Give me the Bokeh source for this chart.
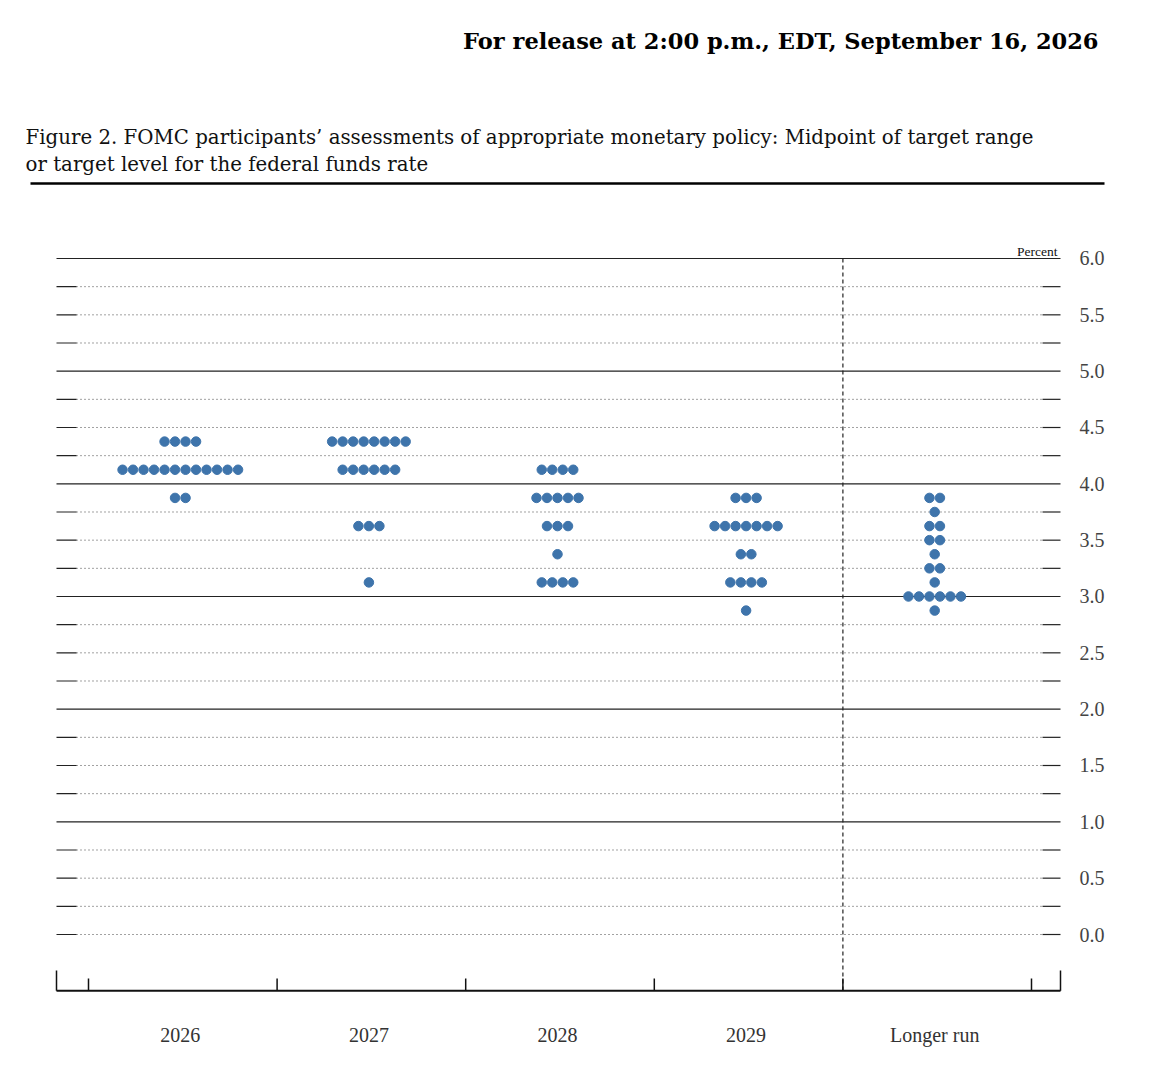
import numpy as np
from bokeh.plotting import figure
from bokeh.models import Range1d
from bokeh.core.properties import value
from bokeh.embed import file_html
from bokeh.resources import INLINE

# projection periods (x categories)
categories = ["2026", "2027", "2028", "2029", "Longer run"]

# midpoint levels and number of participants at each level
levels_2026 = [4.375, 4.125, 3.875]
counts_2026 = [4, 12, 2]

levels_2027 = [4.375, 4.125, 3.625, 3.125]
counts_2027 = [8, 6, 3, 1]

levels_2028 = [4.125, 3.875, 3.625, 3.375, 3.125]
counts_2028 = [4, 5, 3, 1, 4]

levels_2029 = [3.875, 3.625, 3.375, 3.125, 2.875]
counts_2029 = [3, 7, 2, 4, 1]

levels_longer = [3.875, 3.75, 3.625, 3.5, 3.375, 3.25, 3.125, 3.0, 2.875]
counts_longer = [2, 1, 2, 2, 1, 2, 1, 6, 1]

# right hand percent axis
rate_ticks = [0.0, 0.5, 1.0, 1.5, 2.0, 2.5, 3.0, 3.5, 4.0, 4.5, 5.0, 5.5, 6.0]
rate_labels = ["0.0", "0.5", "1.0", "1.5", "2.0", "2.5", "3.0", "3.5", "4.0", "4.5", "5.0", "5.5", "6.0"]

release_text = "For release at 2:00 p.m., EDT, September 16, 2026"
caption_1 = "Figure 2. FOMC participants\u2019 assessments of appropriate monetary policy: Midpoint of target range"
caption_2 = "or target level for the federal funds rate"


# page layout: one category = 188.6 px, one percentage point = 112.67 px
W, H = 1148, 1059
X_PX = 188.6
Y_PX = 112.667


def sx(px):
    return -0.5 + (px - 88) / X_PX


def sy(py):
    return (934 - py) / Y_PX


p = figure(width=W, height=H, output_backend="svg", toolbar_location=None,
           x_range=Range1d(sx(0), sx(W)), y_range=Range1d(sy(H), sy(0)),
           x_axis_location=None, y_axis_location=None, min_border=0)
p.outline_line_color = None
p.grid.visible = False

serif = value("DejaVu Serif")
times = value("Liberation Serif")

# horizontal guide lines every quarter point
grid_levels = np.arange(0, 6.01, 0.25)
full = [g for g in grid_levels if g > 0 and g == int(g)]
dotted = [g for g in grid_levels if not (g > 0 and g == int(g))]

p.segment(x0=[sx(56)] * len(full), y0=full, x1=[sx(1060)] * len(full), y1=full,
          line_color="#222222", line_width=1.2)
p.segment(x0=[sx(76)] * len(dotted), y0=dotted, x1=[sx(1042)] * len(dotted), y1=dotted,
          line_color="#444444", line_width=1, line_dash="1 3")
p.segment(x0=[sx(56)] * len(dotted) + [sx(1042)] * len(dotted), y0=dotted + dotted,
          x1=[sx(76)] * len(dotted) + [sx(1060)] * len(dotted), y1=dotted + dotted,
          line_color="#222222", line_width=1.2)

# separator before the longer run
n = len(categories)
p.segment(x0=[n - 1.5], y0=[6.0], x1=[n - 1.5], y1=[-0.5],
          line_color="#222222", line_width=1.2, line_dash="4 3")

# bottom axis with ticks between the periods
bounds = [i - 0.5 for i in range(n + 1)]
p.segment(x0=[sx(56)], y0=[-0.5], x1=[sx(1060)], y1=[-0.5], line_color="#111111", line_width=2)
p.segment(x0=bounds, y0=[-0.5] * len(bounds), x1=bounds, y1=[sy(978)] * len(bounds),
          line_color="#111111", line_width=1.5)
p.segment(x0=[sx(56), sx(1060)], y0=[-0.5, -0.5], x1=[sx(56), sx(1060)], y1=[sy(970), sy(970)],
          line_color="#111111", line_width=1.5)

# dots and labels sit a touch left of the tick midpoints
shift = -2.5 / X_PX

p.text(x=[i + shift for i in range(n)], y=[sy(1034)] * n, text=categories, text_align="center",
       text_baseline="middle", text_font=times, text_font_size="20px", text_color="#333333")

p.text(x=[sx(1079)] * len(rate_ticks), y=rate_ticks, text=rate_labels, text_align="left",
       text_baseline="middle", text_font=times, text_font_size="20px", text_color="#444444")

p.text(x=[sx(1057)], y=[sy(251)], text=["Percent"], text_align="right", text_baseline="alphabetic",
       text_font=times, text_font_size="13.5px", text_color="#111111")

# the dots
spacing = 10.5 / X_PX
xs, ys = [], []
all_levels = [levels_2026, levels_2027, levels_2028, levels_2029, levels_longer]
all_counts = [counts_2026, counts_2027, counts_2028, counts_2029, counts_longer]
for i, (levels, counts) in enumerate(zip(all_levels, all_counts)):
    for level, count in zip(levels, counts):
        for j in range(count):
            xs.append(i + shift + (j - (count - 1) / 2) * spacing)
            ys.append(level)

p.scatter(x=xs, y=ys, size=9.5, fill_color="#3e74ab", line_color="#3e74ab")

# headings
p.text(x=[sx(1098)], y=[sy(40)], text=[release_text], text_align="right", text_baseline="middle",
       text_font=serif, text_font_style="bold", text_font_size="22.5px", text_color="#000000")
p.text(x=[sx(25), sx(25)], y=[sy(137), sy(164)], text=[caption_1, caption_2], text_align="left",
       text_baseline="middle", text_font=serif, text_font_size="19.8px", text_color="#111111")
p.segment(x0=[sx(30)], y0=[sy(183)], x1=[sx(1104)], y1=[sy(183)], line_color="#000000", line_width=2.5)

open("out.html", "w").write(file_html(p, INLINE))
